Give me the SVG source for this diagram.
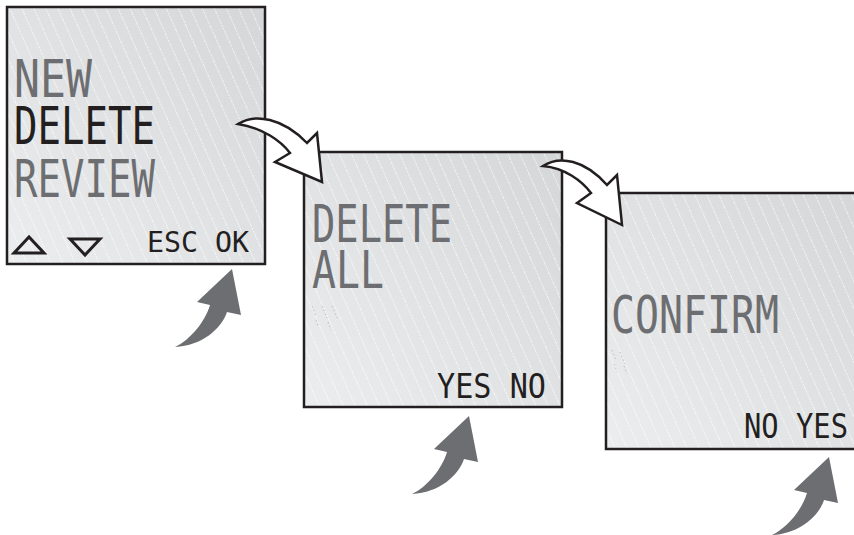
<svg xmlns="http://www.w3.org/2000/svg" width="854" height="535" viewBox="0 0 854 535">
<defs>
<linearGradient id="lcd" x1="1" y1="0" x2="0" y2="1">
<stop offset="0" stop-color="#d5d6d8"/>
<stop offset="1" stop-color="#ecedee"/>
</linearGradient>
<pattern id="hatch" width="11" height="11" patternUnits="userSpaceOnUse" patternTransform="rotate(-24)">
<line x1="5.5" y1="0" x2="5.5" y2="11" stroke="#ffffff" stroke-width="0.8" stroke-opacity="0.75" stroke-dasharray="2 1"/>
</pattern>
<path id="grayArrow" d="M 232,269 L 241,315 L 227,312 C 222,328 202,346 175,347 C 190,340 205,322 210,305 L 197,302 Z"/>
</defs>
<style>
.screen{stroke:#231f20;stroke-width:2.5}
.bg{fill:url(#lcd)}
.hatch{fill:url(#hatch)}
.lcd{font-family:"DejaVu Sans Mono","Liberation Mono",monospace;}
.gray{fill:#6d6e71}
.dark{fill:#231f20}
.big{font-size:51px}
.small{font-size:34px}
.tiny{font-size:28px}
.flow{fill:#ffffff;stroke:#231f20;stroke-width:2.5;stroke-linejoin:miter}
.push{fill:#6d6e71}
.ghost{stroke:#9a9b9d;stroke-width:0.8;stroke-dasharray:1.5 2.5;opacity:0.7}
</style>
<rect width="854" height="535" fill="#ffffff"/>

<g id="screen-menu">
<rect x="7" y="7" width="258" height="257" class="bg"/>
<rect x="7" y="7" width="258" height="257" class="hatch"/>
<rect x="7" y="7" width="258" height="257" fill="none" class="screen"/>
<text class="lcd big gray" x="14" y="97" textLength="78" lengthAdjust="spacingAndGlyphs">NEW</text>
<text class="lcd big dark" x="14" y="144" textLength="141" lengthAdjust="spacingAndGlyphs">DELETE</text>
<text class="lcd big gray" x="14" y="197" textLength="141" lengthAdjust="spacingAndGlyphs">REVIEW</text>
<polygon points="14,253 29,237 44,253" fill="none" stroke="#231f20" stroke-width="3"/>
<polygon points="70,239 100,239 85,255" fill="none" stroke="#231f20" stroke-width="3"/>
<text class="lcd tiny dark" x="147" y="252" textLength="102" lengthAdjust="spacingAndGlyphs">ESC OK</text>
</g>

<g id="screen-delete-all">
<rect x="304" y="152" width="258" height="255" class="bg"/>
<rect x="304" y="152" width="258" height="255" class="hatch"/>
<rect x="304" y="152" width="258" height="255" fill="none" class="screen"/>
<text class="lcd big gray" x="312" y="242" textLength="140" lengthAdjust="spacingAndGlyphs">DELETE</text>
<text class="lcd big gray" x="312" y="288" textLength="72" lengthAdjust="spacingAndGlyphs">ALL</text>
<g class="ghost"><line x1="312" y1="306" x2="316" y2="316"/><line x1="322" y1="306" x2="327" y2="318"/><line x1="332" y1="306" x2="337" y2="318"/><line x1="316" y1="320" x2="318" y2="326"/><line x1="328" y1="322" x2="331" y2="330"/></g>
<text class="lcd small dark" x="437" y="398" textLength="109" lengthAdjust="spacingAndGlyphs">YES NO</text>
</g>

<g id="screen-confirm">
<rect x="606" y="193" width="258" height="256" class="bg"/>
<rect x="606" y="193" width="258" height="256" class="hatch"/>
<rect x="606" y="193" width="258" height="256" fill="none" class="screen"/>
<text class="lcd big gray" x="611" y="333" textLength="168" lengthAdjust="spacingAndGlyphs">CONFIRM</text>
<g class="ghost"><line x1="612" y1="350" x2="616" y2="360"/><line x1="620" y1="352" x2="625" y2="364"/><line x1="614" y1="364" x2="617" y2="372"/><line x1="624" y1="366" x2="627" y2="374"/></g>
<text class="lcd small dark" x="744" y="438" textLength="104" lengthAdjust="spacingAndGlyphs">NO YES</text>
</g>

<g id="connectors">
<path class="flow" d="M 238,124 C 255,113 283,118 307,143 L 317,133 L 322,182 L 275,162 L 290,153 C 281,141 263,128 238,124 Z"/>
<path class="flow" d="M 543,166 C 560,155 585,160 607,185 L 617,175 L 622,225 L 577,203 L 591,193 C 582,181 565,168 543,166 Z"/>
<use href="#grayArrow" class="push"/>
<use href="#grayArrow" class="push" transform="translate(237,147)"/>
<use href="#grayArrow" class="push" transform="translate(597,188)"/>
</g>
</svg>
